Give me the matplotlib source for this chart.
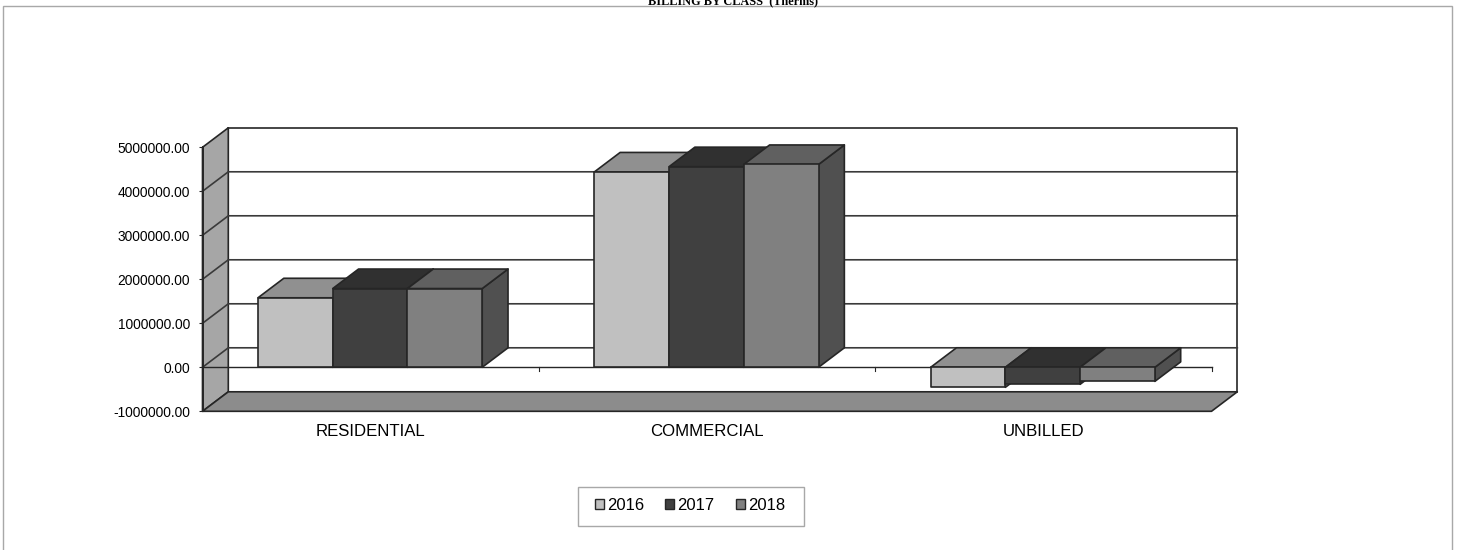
#!/usr/bin/env python

#
# Billing by class, fake 3D column chart (Excel style)
#

import matplotlib
matplotlib.use("Agg")
import matplotlib.pyplot as plt
from matplotlib.patches import Polygon, Rectangle

plt.rcParams['font.family'] = ['Liberation Sans', 'DejaVu Sans']

categories = ["RESIDENTIAL", "COMMERCIAL", "UNBILLED"]
years = ["2016", "2017", "2018"]
values_2016 = [1580000, 4440000, -455000]
values_2017 = [1790000, 4560000, -387000]
values_2018 = [1790000, 4610000, -320000]
yticks = [-1000000, 0, 1000000, 2000000, 3000000, 4000000, 5000000]

W, H = 1458.0, 550.0
front = ["#c0c0c0", "#404040", "#808080"]
tops = ["#909090", "#303030", "#606060"]
sides = ["#909090", "#303030", "#505050"]
EDGE = "#262626"

fig = plt.figure(figsize=(W / 100, H / 100), dpi=100)

# chart area border, runs off the bottom of the picture
fig.add_artist(Rectangle((2.5 / W, -0.05), 1449 / W, 1.05 - 6.5 / H, transform=fig.transFigure,
                         fill=False, edgecolor="#a8a8a8", lw=1))
fig.text(733 / W, 1 - 4 / H, "BILLING BY CLASS  (Therms)", family=['Liberation Serif'], weight='bold',
         fontsize=8.8, ha='center', va='baseline', color='black')

# the axes is the front plane of the 3D box
ax = fig.add_axes([202.5 / W, 1 - 411.3 / H, 1009 / W, 264 / H])
ax.set_xlim(0, 3)
ax.set_ylim(-1000000, 5000000)
ax.patch.set_visible(False)
for s in ax.spines.values():
    s.set_visible(False)

dx = 25.8 / 336.3
dy = 19.5 / 44.0 * 1000000


def poly(pts, color, z=2, lw=1.2):
    ax.add_patch(Polygon(pts, closed=True, facecolor=color, edgecolor=EDGE, lw=lw, zorder=z,
                         clip_on=False, joinstyle='round'))


ymin, ymax = yticks[0], yticks[-1]

# left wall and floor
poly([(0, ymin), (dx, ymin + dy), (dx, ymax + dy), (0, ymax)], "#a6a6a6")
poly([(0, ymin), (3, ymin), (3 + dx, ymin + dy), (dx, ymin + dy)], "#8c8c8c")

# back wall outline and gridlines
ax.plot([dx, 3 + dx, 3 + dx], [ymax + dy, ymax + dy, ymin + dy], color=EDGE, lw=1.2, clip_on=False, zorder=2)
for t in yticks[1:-1]:
    ax.plot([0, dx, 3 + dx], [t, t + dy, t + dy], color="#3a3a3a", lw=1.2, clip_on=False, zorder=2)

# zero line in the front plane with its ticks
ax.plot([0, 3], [0, 0], color=EDGE, lw=1.0, clip_on=False, zorder=3)
ax.plot([0, 0], [ymin, ymax], color=EDGE, lw=1.4, clip_on=False, zorder=3)
for i in range(1, 4):
    ax.plot([i, i], [0, -80000], color=EDGE, lw=0.8, clip_on=False, zorder=3)

width = 1 / 4.5
z = 4
for c in range(len(categories)):
    for b, vals in enumerate([values_2016, values_2017, values_2018]):
        x0 = c + 0.165 + b * width
        x1 = x0 + width
        v = vals[c]
        hi = max(v, 0)
        lo = min(v, 0)
        poly([(x1, lo), (x1 + dx, lo + dy), (x1 + dx, hi + dy), (x1, hi)], sides[b], z)
        poly([(x0, hi), (x0 + dx, hi + dy), (x1 + dx, hi + dy), (x1, hi)], tops[b], z)
        poly([(x0, lo), (x1, lo), (x1, hi), (x0, hi)], front[b], z + 1)
        z += 2

ax.set_yticks(yticks)
ax.set_yticklabels(["%.2f" % t for t in yticks], fontsize=9.9)
ax.set_xticks([c + 0.5 for c in range(len(categories))])
ax.set_xticklabels(categories, fontsize=12.1)
ax.tick_params(axis='y', length=3, width=0.8, pad=6, color=EDGE)
ax.tick_params(axis='x', length=0, pad=9.5)

# legend, box drawn by hand since its padding differs per direction
fig.add_artist(Rectangle((577.5 / W, 1 - 525.5 / H), 226 / W, 39 / H, transform=fig.transFigure,
                         facecolor='white', edgecolor="#a8a8a8", lw=1))
handles = [Rectangle((0, 0), 1, 1, facecolor=front[i], edgecolor=EDGE, lw=1) for i in range(3)]
leg = fig.legend(handles, years, ncol=3, loc='center', bbox_to_anchor=(690 / W, 1 - 505.5 / H),
                 fontsize=12, frameon=False,
                 handlelength=0.54, handleheight=0.54, handletextpad=0.2, columnspacing=1.26,
                 borderpad=0, borderaxespad=0)

plt.savefig('out.png', dpi=100)
